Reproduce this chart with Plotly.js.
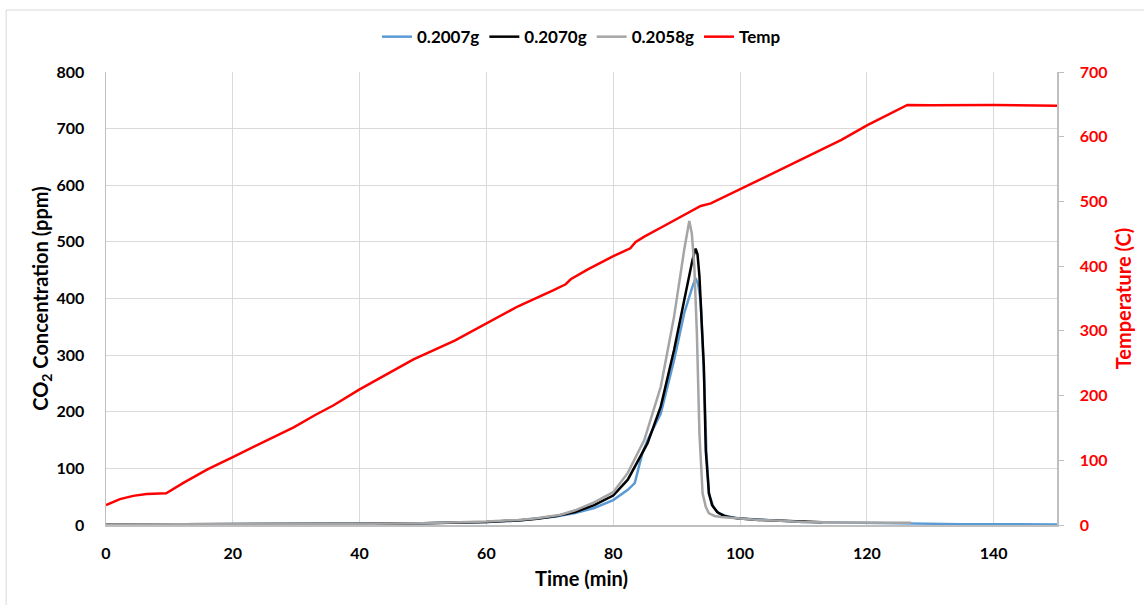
<!DOCTYPE html>
<html>
<head>
<meta charset="utf-8">
<script src="https://cdn.plot.ly/plotly-3.0.1.min.js"></script>
<style>html,body{margin:0;padding:0;background:#fff;}#chart{width:1144px;height:605px;}</style>
</head>
<body>
<div id="chart"></div>
<script>
// ---- Data ----
const seriesNames = ["0.2007g", "0.2070g", "0.2058g", "Temp"];

const tBlue = [0, 10, 20, 30, 40, 50, 55, 60, 65, 68, 71, 74, 77, 80, 82.3, 83.4, 84.0, 84.6, 85.5, 87.5, 89.6, 91.2, 92.5, 93.0, 93.4, 93.8, 94.3, 94.7, 95.1, 95.8, 96.6, 98, 100, 103, 106.4, 110, 115, 120, 127, 135, 150];
const co2Blue = [1, 1, 1, 1.5, 2, 3, 4, 5.5, 8, 11, 15, 21, 30, 44, 62, 74, 100, 127, 152, 197, 291, 374, 421, 436, 425, 395, 270, 130, 55, 32, 21, 15, 11.5, 9, 7.4, 5.5, 4.5, 3.5, 2.5, 1.5, 1];

const tBlack = [0, 10, 20, 30, 40, 50, 55, 60, 65, 68, 71, 74, 77, 80, 82.3, 83.5, 85.4, 87.5, 89.6, 91.2, 92.5, 93.0, 93.3, 93.6, 94.0, 94.3, 94.6, 95.1, 95.6, 96.4, 97.5, 99.5, 103, 106.4, 110, 113];
const co2Black = [1, 1, 1, 1.5, 2, 3, 4, 5.5, 8, 11, 16, 23, 35, 52, 80, 105, 144, 209, 309, 397, 468, 488, 478, 440, 360, 280, 132, 56, 35, 23, 16, 11.7, 9, 7.4, 5.5, 4.8];

const tGray = [0, 10, 20, 30, 40, 50, 55, 60, 65, 68, 71.7, 74, 77, 80, 82.3, 84.9, 87.5, 89.6, 91.2, 92.0, 92.4, 92.8, 93.2, 93.6, 94.1, 94.6, 95.1, 96, 97, 99, 103, 106.4, 110, 115, 120, 127];
const co2Gray = [1, 1, 1, 1.5, 2, 3, 4, 6, 9, 12, 18, 26, 40, 58, 92, 150, 244, 368, 486, 537, 515, 456, 338, 162, 56, 32, 20.5, 16, 14, 12, 9, 7.4, 5.5, 4.5, 4, 3.9];

const tTemp = [0, 2.2, 4.3, 6.4, 8.5, 9.5, 12.2, 16, 20, 25.4, 29.6, 33, 35.9, 40, 46.4, 48.5, 55, 60.1, 65, 70.6, 72.5, 73.3, 76, 80.1, 82.7, 83.5, 84.9, 88, 92.2, 93.8, 95.4, 100.2, 106, 111.7, 116, 120.1, 126.4, 130, 140, 150];
const tempC = [30.8, 40, 45, 47.8, 48.8, 49, 65, 86, 105, 131, 151, 170, 185, 209.6, 244.6, 256, 285, 312.6, 338, 363, 372, 379.7, 395, 415.7, 427.6, 437, 445.6, 462, 484, 493, 497, 520, 547, 574.5, 595, 618, 649, 648.5, 649, 648];

const xTicks = [0, 20, 40, 60, 80, 100, 120, 140];
const yTicks = [0, 100, 200, 300, 400, 500, 600, 700, 800];
const y2Ticks = [0, 100, 200, 300, 400, 500, 600, 700];

// ---- Chart ----
const FONT = "Lato, 'Open Sans', 'DejaVu Sans', sans-serif";
const traces = [
  {x: tBlue, y: co2Blue, name: seriesNames[0], type: "scatter", mode: "lines",
   line: {color: "#5B9BD5", width: 2.5}},
  {x: tBlack, y: co2Black, name: seriesNames[1], type: "scatter", mode: "lines",
   line: {color: "#000000", width: 2.5}},
  {x: tGray, y: co2Gray, name: seriesNames[2], type: "scatter", mode: "lines",
   line: {color: "#A5A5A5", width: 2.5}},
  {x: tTemp, y: tempC, name: seriesNames[3], type: "scatter", mode: "lines", yaxis: "y2",
   line: {color: "#FF0000", width: 2.5}}
];

const layout = {
  width: 1144, height: 605,
  margin: {l: 106, r: 87, t: 72, b: 80},
  paper_bgcolor: "#ffffff", plot_bgcolor: "#ffffff",
  font: {family: FONT, size: 16, color: "#000000", weight: "bold"},
  showlegend: true,
  legend: {orientation: "h", x: 0.5, xanchor: "center", y: 1.077, yanchor: "middle",
           font: {family: FONT, size: 17, color: "#000", weight: "bold"}, traceorder: "normal",
           itemwidth: 30, bgcolor: "rgba(0,0,0,0)"},
  xaxis: {
    range: [0, 150], tickvals: xTicks, ticktext: xTicks.map(String),
    showgrid: true, gridcolor: "#d9d9d9", gridwidth: 1,
    showline: true, linecolor: "#bfbfbf", linewidth: 1.5,
    ticks: "", zeroline: false, ticklabelstandoff: 13,
    tickfont: {family: FONT, size: 16, color: "#000", weight: "bold"},
    title: {text: "Time (min)", font: {family: FONT, size: 20, color: "#000", weight: "bold"}, standoff: 11}
  },
  yaxis: {
    range: [0, 800], tickvals: yTicks, ticktext: yTicks.map(String),
    showgrid: true, gridcolor: "#d9d9d9", gridwidth: 1,
    showline: true, linecolor: "#bfbfbf", linewidth: 1.5,
    ticks: "", zeroline: false, ticklabelstandoff: 17,
    tickfont: {family: FONT, size: 16, color: "#000", weight: "bold"},
    title: {text: "CO<sub>2</sub> Concentration (ppm)", font: {family: FONT, size: 20, color: "#000", weight: "bold"}, standoff: 2}
  },
  yaxis2: {
    overlaying: "y", side: "right",
    range: [0, 700], tickvals: y2Ticks, ticktext: y2Ticks.map(String),
    showgrid: false, showline: true, linecolor: "#bfbfbf", linewidth: 1.5,
    ticks: "outside", ticklen: 5, tickcolor: "#bfbfbf", zeroline: false, ticklabelstandoff: 13,
    tickfont: {family: FONT, size: 16, color: "#FF0000", weight: "bold"},
    title: {text: "Temperature (C)", font: {family: FONT, size: 20, color: "#FF0000", weight: "bold"}, standoff: 10}
  },
  shapes: [
    {type: "rect", xref: "paper", yref: "paper", x0: -0.105, x1: 1.1, y0: -0.2, y1: 1.137,
     line: {color: "#d9d9d9", width: 1}, fillcolor: "rgba(0,0,0,0)", layer: "below"}
  ]
};

Plotly.newPlot("chart", traces, layout, {displayModeBar: false, staticPlot: true});
</script>
</body>
</html>
